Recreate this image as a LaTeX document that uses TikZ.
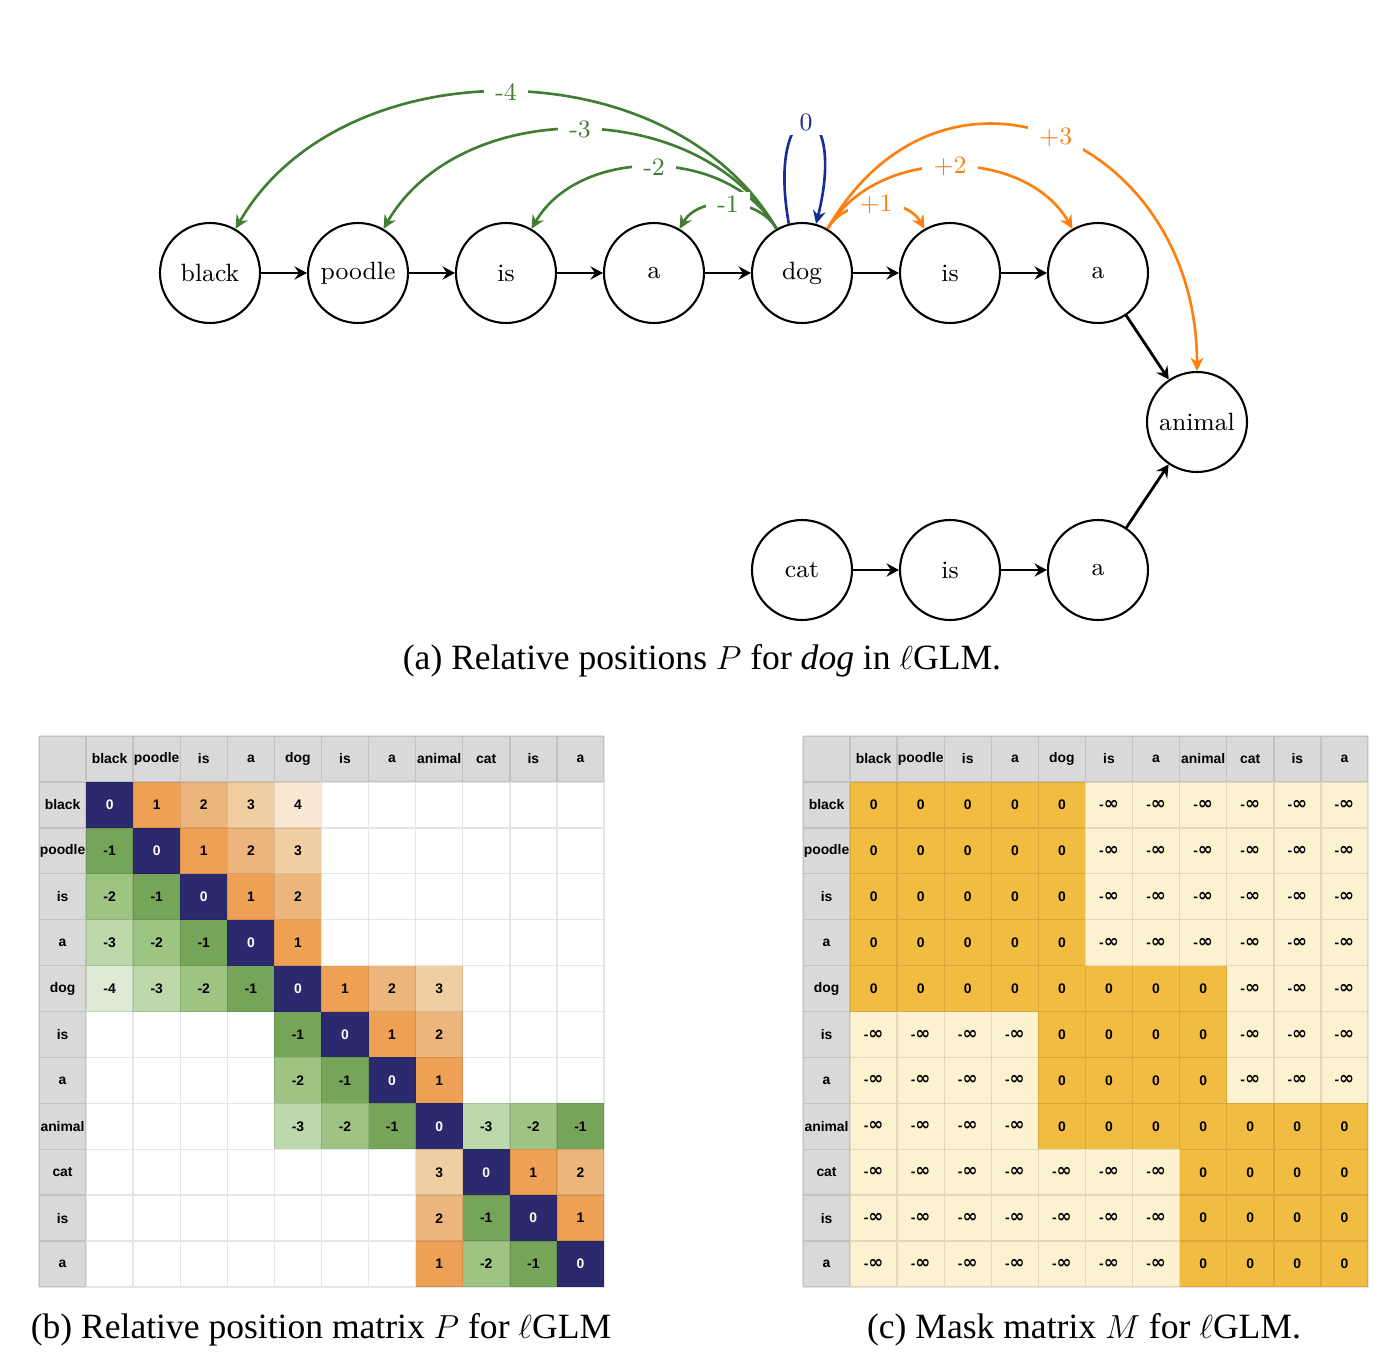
\documentclass[tikz,border=0pt]{standalone}
\usepackage{fontspec}
\newfontfamily\capfont{Liberation Serif}
\newfontfamily\arialfont{Liberation Sans}
\newfontfamily\djvfont{DejaVu Sans}
\usetikzlibrary{arrows.meta}
\definecolor{grn}{RGB}{65,125,50}
\definecolor{blu}{RGB}{25,45,150}
\definecolor{org}{RGB}{255,127,14}
\definecolor{navyc}{RGB}{43,42,110}
\definecolor{or1}{RGB}{238,161,84}
\definecolor{or2}{RGB}{235,181,124}
\definecolor{or3}{RGB}{241,206,162}
\definecolor{or4}{RGB}{249,231,212}
\definecolor{gr1}{RGB}{118,165,90}
\definecolor{gr2}{RGB}{158,196,132}
\definecolor{gr3}{RGB}{189,216,170}
\definecolor{gr4}{RGB}{221,234,214}
\definecolor{hdrc}{RGB}{217,217,217}
\definecolor{ydk}{RGB}{241,188,66}
\definecolor{ylt}{RGB}{253,242,208}
\newcommand{\minf}{-{\djvfont\bfseries\fontsize{6.5}{7}\selectfont ∞}}
\begin{document}
\begin{tikzpicture}[x=0.36pt,y=0.36pt,
  word/.style={circle, draw, line width=0.75pt, minimum size=36pt, inner sep=0pt, font=\fontsize{9}{10}\selectfont},
  arr/.style={-{Stealth[length=4.5pt,width=4.8pt,inset=1.6pt]}, line width=1pt},
  rel/.style={-{Stealth[length=4.8pt,width=4.6pt,inset=1.6pt]}, line width=0.95pt},
  lbl/.style={fill=white, inner xsep=4pt, inner ysep=1.5pt, font=\fontsize{9}{10}\selectfont},
  captxt/.style={font=\capfont\fontsize{12.8}{15}\selectfont, inner sep=0pt},
  ct/.style={font=\arialfont\bfseries\fontsize{5}{6}\selectfont, inner sep=0pt, minimum width=16.949pt, minimum height=16.531pt},
  cz/.style={fill=navyc, text=white},
  cp1/.style={fill=or1}, cp2/.style={fill=or2}, cp3/.style={fill=or3}, cp4/.style={fill=or4},
  cm1/.style={fill=gr1}, cm2/.style={fill=gr2}, cm3/.style={fill=gr3}, cm4/.style={fill=gr4},
  gridl/.style={draw=black, draw opacity=0.1, line width=0.5pt}
]
\useasboundingbox (0,0) rectangle (1386,1364);

% ---------- graph ----------
\node[word] (black)  at (210,1091) {black};
\node[word] (poodle) at (358,1091) {poodle};
\node[word] (isA)    at (506,1091) {is};
\node[word] (aA)     at (654,1091) {a};
\node[word] (dog)    at (802,1091) {dog};
\node[word] (isB)    at (950,1091) {is};
\node[word] (aB)     at (1098,1091) {a};
\node[word] (animal) at (1197,942) {animal};
\node[word] (cat)    at (802,794) {cat};
\node[word] (isC)    at (950,794) {is};
\node[word] (aC)     at (1098,794) {a};

\draw[arr] (black) -- (poodle);
\draw[arr] (poodle) -- (isA);
\draw[arr] (isA) -- (aA);
\draw[arr] (aA) -- (dog);
\draw[arr] (dog) -- (isB);
\draw[arr] (isB) -- (aB);
\draw[arr] (aB) -- (animal);
\draw[arr] (cat) -- (isC);
\draw[arr] (isC) -- (aC);
\draw[arr] (aC) -- (animal);

\draw[rel, grn] (dog.120) to[out=120,in=60] node[lbl, text=grn] {-4} (black.60);
\draw[rel, grn] (dog.120) to[out=120,in=60] node[lbl, text=grn] {-3} (poodle.60);
\draw[rel, grn] (dog.120) to[out=120,in=60] node[lbl, text=grn] {-2} (isA.60);
\draw[rel, grn] (dog.120) to[out=120,in=60] node[lbl, text=grn] {-1} (aA.60);
\draw[rel, blu] (dog.105) to[out=100,in=76,distance=50pt] node[lbl, text=blu] {0} (dog.74);
\draw[rel, org] (dog.60) to[out=60,in=120] node[lbl, text=org] {+1} (isB.120);
\draw[rel, org] (dog.60) to[out=60,in=120] node[lbl, text=org] {+2} (aB.120);
\draw[rel, org] (dog.60) to[out=60,in=90,looseness=1.5] node[lbl, text=org] {+3} (animal.north);

\node[captxt] (capa) at (702,703) {(a) Relative positions $P$ for \textit{dog} in $\ell$GLM.};

% ---------- matrix P ----------
\begin{scope}[shift={(39,628)}, x=16.949pt, y=16.531pt]
  \fill[hdrc] (0,0) rectangle (12,-1);
  \fill[hdrc] (0,-1) rectangle (1,-12);
  \foreach \w [count=\i] in {black,poodle,is,a,dog,is,a,animal,cat,is,a} {
    \node[ct] (pc\i) at (\i+.5,-.5) {\w};
    \node[ct] (pr\i) at (.5,-\i-.5) {\w};
  }
  \foreach \r/\c/\v/\s in {
    1/1/0/z, 1/2/1/p1, 1/3/2/p2, 1/4/3/p3, 1/5/4/p4,
    2/1/-1/m1, 2/2/0/z, 2/3/1/p1, 2/4/2/p2, 2/5/3/p3,
    3/1/-2/m2, 3/2/-1/m1, 3/3/0/z, 3/4/1/p1, 3/5/2/p2,
    4/1/-3/m3, 4/2/-2/m2, 4/3/-1/m1, 4/4/0/z, 4/5/1/p1,
    5/1/-4/m4, 5/2/-3/m3, 5/3/-2/m2, 5/4/-1/m1, 5/5/0/z, 5/6/1/p1, 5/7/2/p2, 5/8/3/p3,
    6/5/-1/m1, 6/6/0/z, 6/7/1/p1, 6/8/2/p2,
    7/5/-2/m2, 7/6/-1/m1, 7/7/0/z, 7/8/1/p1,
    8/5/-3/m3, 8/6/-2/m2, 8/7/-1/m1, 8/8/0/z, 8/9/-3/m3, 8/10/-2/m2, 8/11/-1/m1,
    9/8/3/p3, 9/9/0/z, 9/10/1/p1, 9/11/2/p2,
    10/8/2/p2, 10/9/-1/m1, 10/10/0/z, 10/11/1/p1,
    11/8/1/p1, 11/9/-2/m2, 11/10/-1/m1, 11/11/0/z} {
    \node[ct, c\s] (p\r-\c) at (\c+.5,-\r-.5) {\v};
  }
  \path[gridl] \foreach \i in {0,...,12} {(\i,0) -- (\i,-12) (0,-\i) -- (12,-\i)};
\end{scope}
\node[captxt] (capb) at (321,34) {(b) Relative position matrix $P$ for $\ell$GLM};

% ---------- matrix M ----------
\begin{scope}[shift={(803,628)}, x=16.949pt, y=16.531pt]
  \fill[hdrc] (0,0) rectangle (12,-1);
  \fill[hdrc] (0,-1) rectangle (1,-12);
  \foreach \w [count=\i] in {black,poodle,is,a,dog,is,a,animal,cat,is,a} {
    \node[ct] (mc\i) at (\i+.5,-.5) {\w};
    \node[ct] (mr\i) at (.5,-\i-.5) {\w};
  }
  \foreach \r/\row in {
    1/{0,0,0,0,0,1,1,1,1,1,1},
    2/{0,0,0,0,0,1,1,1,1,1,1},
    3/{0,0,0,0,0,1,1,1,1,1,1},
    4/{0,0,0,0,0,1,1,1,1,1,1},
    5/{0,0,0,0,0,0,0,0,1,1,1},
    6/{1,1,1,1,0,0,0,0,1,1,1},
    7/{1,1,1,1,0,0,0,0,1,1,1},
    8/{1,1,1,1,0,0,0,0,0,0,0},
    9/{1,1,1,1,1,1,1,0,0,0,0},
    10/{1,1,1,1,1,1,1,0,0,0,0},
    11/{1,1,1,1,1,1,1,0,0,0,0}} {
    \foreach \v [count=\c] in \row {
      \ifnum\v=0
        \node[ct, fill=ydk] (m\r-\c) at (\c+.5,-\r-.5) {0};
      \else
        \node[ct, fill=ylt] (m\r-\c) at (\c+.5,-\r-.5) {\minf};
      \fi
    }
  }
  \path[gridl] \foreach \i in {0,...,12} {(\i,0) -- (\i,-12) (0,-\i) -- (12,-\i)};
\end{scope}
\node[captxt] (capc) at (1084,34) {(c) Mask matrix $M$ for $\ell$GLM.};
\end{tikzpicture}
\end{document}
